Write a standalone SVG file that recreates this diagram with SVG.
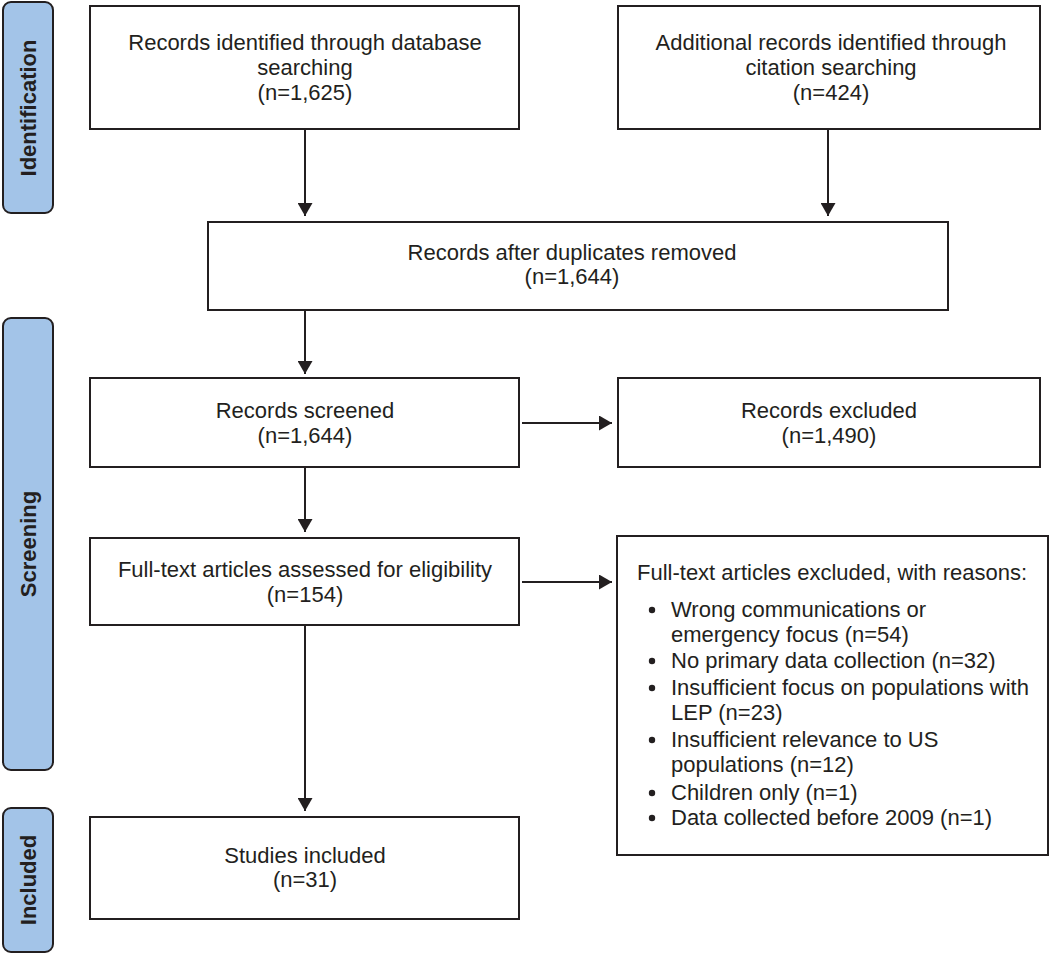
<svg xmlns="http://www.w3.org/2000/svg" width="1050" height="956" viewBox="0 0 1050 956">
<style>
.box{fill:#fff;stroke:#231f20;stroke-width:2}
.bar{fill:#a3c4e8;stroke:#231f20;stroke-width:2}
.t{font-family:"Liberation Sans",Arial,sans-serif;font-size:22px;fill:#231f20}
.c{text-anchor:middle}
.b{font-family:"Liberation Sans",Arial,sans-serif;font-size:22px;font-weight:bold;fill:#231f20;text-anchor:middle}
.ln{stroke:#231f20;stroke-width:2;fill:none}
</style>
<defs>
<marker id="ah" viewBox="0 0 13 15" refX="13" refY="7.5" markerWidth="13" markerHeight="15" markerUnits="userSpaceOnUse" orient="auto">
<path d="M0,0 L13,7.5 L0,15 z" fill="#231f20"/>
</marker>
</defs>
<rect width="1050" height="956" fill="#fff"/>
<g id="phase-identification">
<rect class="bar" x="3" y="2" width="50" height="211" rx="8"/>
<text class="b" transform="translate(36,108) rotate(-90)">Identification</text>
</g>
<g id="phase-screening">
<rect class="bar" x="3" y="318" width="50" height="452" rx="8"/>
<text class="b" transform="translate(36,544) rotate(-90)">Screening</text>
</g>
<g id="phase-included">
<rect class="bar" x="3" y="808" width="50" height="144" rx="8"/>
<text class="b" transform="translate(36,880) rotate(-90)">Included</text>
</g>
<g id="connectors">
<line class="ln" x1="305" y1="130" x2="305" y2="216" marker-end="url(#ah)"/>
<line class="ln" x1="828" y1="130" x2="828" y2="216" marker-end="url(#ah)"/>
<line class="ln" x1="305" y1="311" x2="305" y2="374" marker-end="url(#ah)"/>
<line class="ln" x1="522" y1="423" x2="612" y2="423" marker-end="url(#ah)"/>
<line class="ln" x1="305" y1="468" x2="305" y2="532" marker-end="url(#ah)"/>
<line class="ln" x1="522" y1="582" x2="612" y2="582" marker-end="url(#ah)"/>
<line class="ln" x1="305" y1="626" x2="305" y2="811" marker-end="url(#ah)"/>
</g>
<g id="n-database">
<rect class="box" x="90" y="6" width="429" height="123"/>
<text class="t c" x="305" y="50">Records identified through database</text>
<text class="t c" x="305" y="75">searching</text>
<text class="t c" x="305" y="100">(n=1,625)</text>
</g>
<g id="n-citation">
<rect class="box" x="618" y="6" width="422" height="123"/>
<text class="t c" x="831" y="50">Additional records identified through</text>
<text class="t c" x="831" y="75">citation searching</text>
<text class="t c" x="831" y="100">(n=424)</text>
</g>
<g id="n-dedup">
<rect class="box" x="208" y="222" width="740" height="88"/>
<text class="t c" x="572" y="260">Records after duplicates removed</text>
<text class="t c" x="572" y="284">(n=1,644)</text>
</g>
<g id="n-screened">
<rect class="box" x="90" y="378" width="429" height="89"/>
<text class="t c" x="305" y="418">Records screened</text>
<text class="t c" x="305" y="443">(n=1,644)</text>
</g>
<g id="n-excluded">
<rect class="box" x="618" y="378" width="422" height="89"/>
<text class="t c" x="829" y="418">Records excluded</text>
<text class="t c" x="829" y="443">(n=1,490)</text>
</g>
<g id="n-fulltext">
<rect class="box" x="90" y="538" width="429" height="87"/>
<text class="t c" x="305" y="577">Full-text articles assessed for eligibility</text>
<text class="t c" x="305" y="602">(n=154)</text>
</g>
<g id="n-reasons">
<rect class="box" x="617" y="536" width="431" height="319"/>
<text class="t" x="637" y="580">Full-text articles excluded, with reasons:</text>
<circle cx="652" cy="610" r="3.2" fill="#231f20"/>
<text class="t" x="671" y="617">Wrong communications or</text>
<text class="t" x="671" y="642">emergency focus (n=54)</text>
<circle cx="652" cy="661" r="3.2" fill="#231f20"/>
<text class="t" x="671" y="668">No primary data collection (n=32)</text>
<circle cx="652" cy="688" r="3.2" fill="#231f20"/>
<text class="t" x="671" y="695">Insufficient focus on populations with</text>
<text class="t" x="671" y="720">LEP (n=23)</text>
<circle cx="652" cy="740" r="3.2" fill="#231f20"/>
<text class="t" x="671" y="747">Insufficient relevance to US</text>
<text class="t" x="671" y="772">populations (n=12)</text>
<circle cx="652" cy="793" r="3.2" fill="#231f20"/>
<text class="t" x="671" y="800">Children only (n=1)</text>
<circle cx="652" cy="818" r="3.2" fill="#231f20"/>
<text class="t" x="671" y="825">Data collected before 2009 (n=1)</text>
</g>
<g id="n-included">
<rect class="box" x="90" y="817" width="429" height="102"/>
<text class="t c" x="305" y="863">Studies included</text>
<text class="t c" x="305" y="887">(n=31)</text>
</g>
</svg>
